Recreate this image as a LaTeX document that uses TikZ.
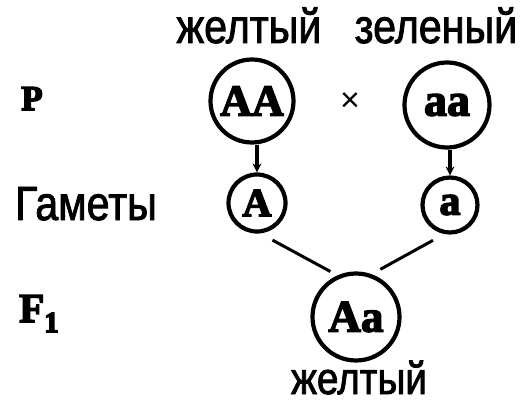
\documentclass[tikz,border=0pt]{standalone}
\usepackage{fontspec}
\usepackage{graphicx}
\usetikzlibrary{arrows.meta}
\newfontfamily\lsans{Liberation Sans}
\newfontfamily\lserif{Liberation Serif}
\newcommand{\fb}[2]{\special{pdf:literal direct #1 w 2 Tr}#2\special{pdf:literal direct 0 Tr}}
\newcommand{\cyr}[2][48]{\scalebox{0.86}[1]{\lsans\fontsize{#1}{#1}\selectfont\fb{0.9}{#2}}}
\newcommand{\gl}[2]{\lserif\bfseries\fontsize{#1}{#1}\selectfont\fb{1.5}{#2}}
\tikzset{
  gen/.style={circle, draw, line width=4.2pt, inner sep=0pt},
  conn/.style={line width=3pt},
  arr/.style={line width=3.5pt, -{Stealth[length=9pt,width=9pt]}},
  lab/.style={inner sep=0pt, anchor=base},
}
\begin{document}
\begin{tikzpicture}[x=1pt,y=-1pt]
\useasboundingbox (0,0) rectangle (530,404);
\node[lab] (y1) at (249,43) {\cyr{желтый}};
\node[lab] (z1) at (436,43) {\cyr{зеленый}};
\node[lab] (P) at (32,110) {\gl{35}{P}};
\node[gen, minimum size=83pt] (AA) at (252,101) {\gl{44}{AA}};
\node[lab] (x) at (350,111) {\lsans\fontsize{34}{34}\selectfont ×};
\node[gen, minimum size=85pt] (aa) at (447,105) {\gl{46}{aa}};
\node[lab] (g) at (86,220) {\cyr{Гаметы}};
\node[gen, minimum size=57pt] (A) at (257,203) {\gl{40}{A}};
\node[gen, minimum size=55pt] (a) at (450,205) {\gl{42}{a}};
\node[lab, anchor=base west] (F) at (19,322) {\gl{41}{F\raisebox{-10pt}{\fontsize{29}{29}\selectfont 1}}};
\node[gen, minimum size=87pt] (Aa) at (356,317) {\gl{45}{Aa}};
\node[lab] (y2) at (359,394) {\cyr[45]{желтый}};
\draw[arr] (A.north |- AA.south) -- (A.north);
\draw[arr] (a.north |- aa.south) -- (a.north);
\draw[conn, shorten <=14pt, shorten >=8pt] (A.-84) -- (Aa.114);
\draw[conn, shorten <=13pt, shorten >=10pt] (a.-101) -- (Aa.70);
\end{tikzpicture}
\end{document}
